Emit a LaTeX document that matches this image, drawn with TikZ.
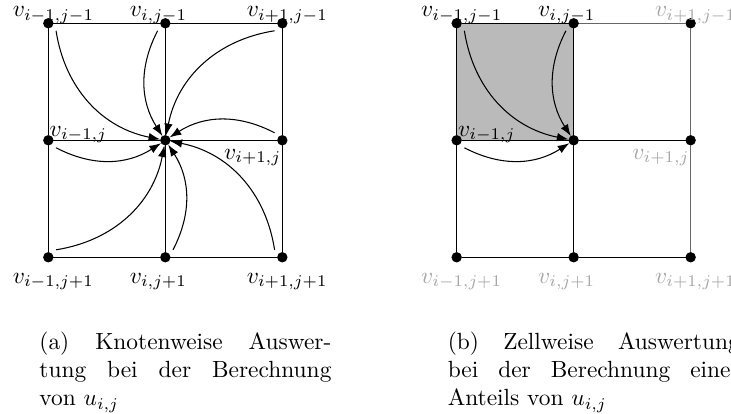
\documentclass[tikz,border=0pt]{standalone}
\usetikzlibrary{arrows.meta,backgrounds}
\begin{document}
\begin{tikzpicture}[x=50pt,y=50pt]
 \tikzstyle{v} = [circle, draw, fill=black, inner sep=0pt, minimum size=4pt]
    \tikzstyle{e} = [line width=.45pt]
    \tikzstyle{eg} = [e, draw=black!60]
    \tikzstyle{arr} = [line width=.45pt, -{Latex[length=5pt,width=3.6pt]}]
    \tikzstyle{lab} = [inner sep=0pt, anchor=base west]
    \tikzstyle{labg} = [lab, text=black!35]
    \tikzstyle{capt} = [inner sep=0pt, anchor=north west, text width=124.8pt, align=justify]
    %%
    \useasboundingbox (-0.413,0.199) rectangle (5.835,-3.339);

    % (a) Knotenweise
        \node[v] (a11) at (0,0) {};
        \node[v] (a21) at (1,0) {};
        \node[v] (a31) at (2,0) {};
        \node[v] (a12) at (0,-1) {};
        \node[v] (a22) at (1,-1) {};
        \node[v] (a32) at (2,-1) {};
        \node[v] (a13) at (0,-2) {};
        \node[v] (a23) at (1,-2) {};
        \node[v] (a33) at (2,-2) {};
        \draw[e] (a11)--(a21)--(a31)--(a32)--(a33)--(a23)--(a13)--(a12)--(a11);
        \draw[e] (a21)--(a22)--(a23); \draw[e] (a12)--(a22)--(a32);

        \node[lab] (la11) at ([shift={(-15.4pt,2.8pt)}]a11.center) {$v_{i-1,j-1}$};
        \node[lab] (la21) at ([shift={(-15.4pt,2.8pt)}]a21.center) {$v_{i,j-1}$};
        \node[lab] (la31) at ([shift={(-15.4pt,2.8pt)}]a31.center) {$v_{i+1,j-1}$};
        \node[lab] (la12) at ([shift={(.4pt,1.7pt)}]a12.center) {$v_{i-1,j}$};
        \node[lab] (la32) at ([shift={(-25.1pt,-8pt)}]a32.center) {$v_{i+1,j}$};
        \node[lab] (la13) at ([shift={(-15.4pt,-11pt)}]a13.center) {$v_{i-1,j+1}$};
        \node[lab] (la23) at ([shift={(-15.4pt,-11pt)}]a23.center) {$v_{i,j+1}$};
        \node[lab] (la33) at ([shift={(-15.4pt,-11pt)}]a33.center) {$v_{i+1,j+1}$};

        \draw[arr] ([shift={(3.3pt,-3.2pt)}]a11.center) to[bend right=35] (a22);
        \draw[arr] ([shift={(-3.3pt,-3.2pt)}]a21.center) to[bend right=30] (a22);
        \draw[arr] ([shift={(-3.3pt,-3.2pt)}]a31.center) to[bend right=35] (a22);
        \draw[arr] ([shift={(-3.3pt,3.2pt)}]a32.center) to[bend right=30] (a22);
        \draw[arr] ([shift={(-3.3pt,3.2pt)}]a33.center) to[bend right=35] (a22);
        \draw[arr] ([shift={(3.3pt,3.2pt)}]a23.center) to[bend right=30] (a22);
        \draw[arr] ([shift={(3.3pt,3.2pt)}]a13.center) to[bend right=35] (a22);
        \draw[arr] ([shift={(3.3pt,-3.2pt)}]a12.center) to[bend right=30] (a22);

        \node[capt] (capa) at (-.08,-2.634) {(a) Knotenweise Auswer-\linebreak tung bei der Berechnung\linebreak von $u_{i,j}$};

    % (b) Zellweise
        \node[v] (b11) at (3.49,0) {};
        \node[v] (b21) at (4.49,0) {};
        \node[v] (b31) at (5.49,0) {};
        \node[v] (b12) at (3.49,-1) {};
        \node[v] (b22) at (4.49,-1) {};
        \node[v] (b32) at (5.49,-1) {};
        \node[v] (b13) at (3.49,-2) {};
        \node[v] (b23) at (4.49,-2) {};
        \node[v] (b33) at (5.49,-2) {};
        \begin{scope}[on background layer]
          \fill[black!27] (b11.center) rectangle (b22.center);
        \end{scope}
        \draw[e] (b31)--(b11)--(b12)--(b13)--(b23)--(b33);
        \draw[e] (b21)--(b22)--(b23); \draw[e] (b12)--(b22)--(b32);
        \draw[eg] (b21)--(b31)--(b32)--(b33);

        \node[lab] (lb11) at ([shift={(-15.4pt,2.8pt)}]b11.center) {$v_{i-1,j-1}$};
        \node[lab] (lb21) at ([shift={(-15.4pt,2.8pt)}]b21.center) {$v_{i,j-1}$};
        \node[labg] (lb31) at ([shift={(-15.4pt,2.8pt)}]b31.center) {$v_{i+1,j-1}$};
        \node[lab] (lb12) at ([shift={(.4pt,1.7pt)}]b12.center) {$v_{i-1,j}$};
        \node[labg] (lb32) at ([shift={(-25.1pt,-8pt)}]b32.center) {$v_{i+1,j}$};
        \node[labg] (lb13) at ([shift={(-15.4pt,-11pt)}]b13.center) {$v_{i-1,j+1}$};
        \node[labg] (lb23) at ([shift={(-15.4pt,-11pt)}]b23.center) {$v_{i,j+1}$};
        \node[labg] (lb33) at ([shift={(-15.4pt,-11pt)}]b33.center) {$v_{i+1,j+1}$};

        \draw[arr] ([shift={(3.3pt,-3.2pt)}]b11.center) to[bend right=35] (b22);
        \draw[arr] ([shift={(-3.3pt,-3.2pt)}]b21.center) to[bend right=30] (b22);
        \draw[arr] ([shift={(3.3pt,-3.2pt)}]b12.center) to[bend right=30] (b22);

        \node[capt] (capb) at (3.41,-2.634) {(b) Zellweise Auswertung\linebreak bei der Berechnung eines\linebreak Anteils von $u_{i,j}$};

\end{tikzpicture}
\end{document}
